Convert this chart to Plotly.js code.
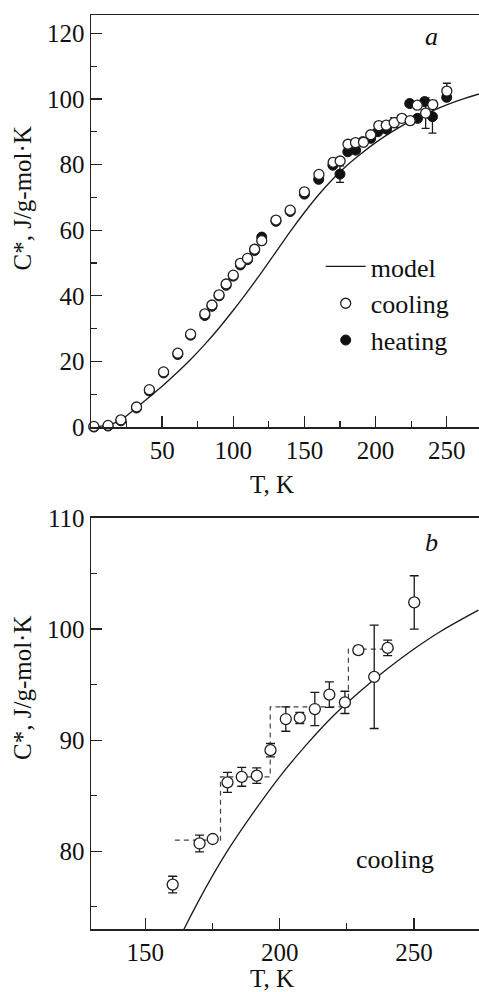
<!DOCTYPE html>
<html>
<head>
<meta charset="utf-8">
<script src="https://cdn.plot.ly/plotly-3.0.1.min.js"></script>
<style>
html,body{margin:0;padding:0;background:#fff;}
#chart{width:479px;height:992px;}
</style>
</head>
<body>
<div id="chart"></div>
<script>
// ---- model curve (T, K ; C*, J/g-mol·K)
var modelT = [0,10,20,30,40,50,60,70,80,90,100,110,120,130,140,150,160,170,180,190,200,210,220,230,240,250,260,274];
var modelC = [0,0.5,1.9,5.2,8.8,12.4,16.4,20.6,25.2,30.2,35.6,41.3,47.2,53.4,59.6,65.4,70.8,75.6,79.8,83.4,86.7,89.6,92.2,94.4,96.4,98.2,99.8,101.7];

// ---- cooling, low temperature part (panel a only)
var coolLowT = [2,12,21,32,41,51,61,70,80,85,90,95,100,105,110,115,120,130,140,150];
var coolLowC = [0.2,0.5,2.2,6.1,11.4,16.8,22.5,28.3,34.5,37.2,40.3,43.6,46.3,49.9,51.4,54.2,56.8,63.1,66.1,71.7];
var coolLowErr = [0,0,0,0,0,0,0,0,0,0,0,0,0,0,0,0,0,0,0,0];

// ---- cooling, T >= 160 K (panels a and b)
var coolT = [160.2,170.2,175.1,180.6,185.9,191.5,196.6,202.3,207.5,213.1,218.5,224.3,229.3,235.2,240.2,250.1];
var coolC = [77.0,80.7,81.1,86.2,86.7,86.8,89.1,91.9,92.0,92.8,94.1,93.4,98.1,95.7,98.3,102.4];
var coolErr = [0.75,0.75,0.3,0.9,0.85,0.7,0.6,1.1,0.5,1.5,1.15,1.0,0.35,4.65,0.7,2.4];

// ---- heating (panel a)
var heatT = [2,12,21,32,41,51,61,70,80,85,90,95,100,105,110,115,120,130,140,150,160,170,175,180.5,186,191,196.6,201.6,207.7,224,229.5,234.5,240,250];
var heatC = [0,0.3,1.9,5.8,11.0,16.5,22.1,28.0,34.0,36.8,40.0,43.2,46.0,49.4,51.0,53.8,57.9,62.7,65.7,71.0,75.5,79.8,77.1,83.9,84.4,87.0,88.0,90.0,90.8,98.6,94.1,99.2,94.6,100.5];
var heatErr = [0,0,0,0,0,0,0,0,0,0,0,0,0,0,0,0,0,0,0,0,0,0,2.5,0,0,0,0,0,0,0,0,1.0,5.0,0];

// ---- dashed step line (panel b)
var stepT = [161,178,196.5,225.6,243.5];
var stepC = [81.0,86.7,93.0,98.2,98.2];

var FONT = '"Liberation Serif", "Times New Roman", Times, serif';
var FS = 25;
var INK = '#1a1a1a';

var allCoolT = coolLowT.concat(coolT);
var allCoolC = coolLowC.concat(coolC);
var allCoolErr = coolLowErr.concat(coolErr);

var traces = [
  {x: modelT, y: modelC, xaxis:'x', yaxis:'y', mode:'lines', name:'model', legendrank:1,
   line:{color:INK, width:1.3, shape:'spline'}},
  {x: heatT, y: heatC, xaxis:'x', yaxis:'y', mode:'markers', name:'heating', legendrank:3, cliponaxis:false,
   marker:{size:10, color:'#111', line:{width:1, color:'#111'}},
   error_y:{type:'data', array:heatErr, visible:true, color:INK, thickness:1.3, width:4}},
  {x: allCoolT, y: allCoolC, xaxis:'x', yaxis:'y', mode:'markers', name:'cooling', legendrank:2, cliponaxis:false,
   marker:{size:10, color:'#fff', line:{width:1.3, color:'#222'}},
   error_y:{type:'data', array:allCoolErr, visible:true, color:INK, thickness:1.3, width:4}},

  {x: modelT, y: modelC, xaxis:'x2', yaxis:'y2', mode:'lines', showlegend:false,
   line:{color:INK, width:1.3, shape:'spline'}},
  {x: stepT, y: stepC, xaxis:'x2', yaxis:'y2', mode:'lines', showlegend:false,
   line:{color:'#444', width:1.2, shape:'hv', dash:'5px,4px'}},
  {x: coolT, y: coolC, xaxis:'x2', yaxis:'y2', mode:'markers', showlegend:false, cliponaxis:false,
   marker:{size:11, color:'#fff', line:{width:1.3, color:'#222'}},
   error_y:{type:'data', array:coolErr, visible:true, color:INK, thickness:1.3, width:4.5}}
];

function ax(o){
  var base = {showgrid:false, zeroline:false, showline:true, linecolor:'#222', linewidth:1.5,
    ticks:'inside', ticklen:11, tickwidth:1.3, tickcolor:'#222',
    tickfont:{family:FONT, size:FS, color:'#111'}, fixedrange:true};
  for (var k in o) base[k] = o[k];
  return base;
}

function note(x, y, text, extra){
  var a = {xref:'paper', yref:'paper', x:x, y:y, text:text, showarrow:false,
           xanchor:'center', yanchor:'middle', font:{family:FONT, size:FS, color:'#111'}};
  for (var k in (extra||{})) a[k] = extra[k];
  return a;
}

var layout = {
  width:479, height:992,
  margin:{l:91, r:0, t:15, b:63},
  paper_bgcolor:'#fff', plot_bgcolor:'#fff',
  font:{family:FONT, size:FS, color:'#111'},
  showlegend:true,
  legend:{x:0.592, y:0.7505, xanchor:'left', yanchor:'top', bgcolor:'rgba(0,0,0,0)',
          font:{family:FONT, size:26, color:'#111'}, tracegroupgap:0, itemwidth:40},
  xaxis: ax({domain:[0,1], anchor:'y', range:[0,272.7], mirror:true,
             tickmode:'array', tickvals:[0,50,100,150,200,250], ticktext:['','50','100','150','200','250'],
             minor:{tickmode:'linear', tick0:0, dtick:25, ticks:'inside', ticklen:6, tickwidth:1.2, tickcolor:'#222', showgrid:false}}),
  yaxis: ax({domain:[0.5492,1], anchor:'x', range:[0,125.6], tick0:0, dtick:20,
             minor:{tick0:0, dtick:10, ticks:'inside', ticklen:6, tickwidth:1.2, tickcolor:'#222', showgrid:false}}),
  xaxis2: ax({domain:[0,1], anchor:'y2', range:[129.8,274.2], mirror:true, tick0:0, dtick:50,
             minor:{tick0:0, dtick:25, ticks:'inside', ticklen:6, tickwidth:1.2, tickcolor:'#222', showgrid:false}}),
  yaxis2: ax({domain:[0,0.4497], anchor:'x2', range:[73,110], tick0:0, dtick:10,
             minor:{tick0:0, dtick:5, ticks:'inside', ticklen:6, tickwidth:1.2, tickcolor:'#222', showgrid:false}}),
  annotations:[
    {xref:'x', yref:'y', x:239.3, y:118.9, text:'<i>a</i>', showarrow:false, xanchor:'center', yanchor:'middle', font:{family:FONT, size:26, color:'#111'}},
    {xref:'x2', yref:'y2', x:256.6, y:107.8, text:'<i>b</i>', showarrow:false, xanchor:'center', yanchor:'middle', font:{family:FONT, size:26, color:'#111'}},
    {xref:'x2', yref:'y2', x:242.9, y:79.25, text:'cooling', showarrow:false, xanchor:'center', yanchor:'middle', font:{family:FONT, size:26, color:'#111'}},
    note(0.4665, 0.4858, 'T, K'),
    note(0.4665, -0.0545, 'T, K'),
    note(-0.1753, 0.7992, 'C*, J/g-mol·K', {textangle:-90}),
    note(-0.1753, 0.2637, 'C*, J/g-mol·K', {textangle:-90})
  ]
};

Plotly.newPlot('chart', traces, layout, {staticPlot:true, displayModeBar:false});
</script>
</body>
</html>
